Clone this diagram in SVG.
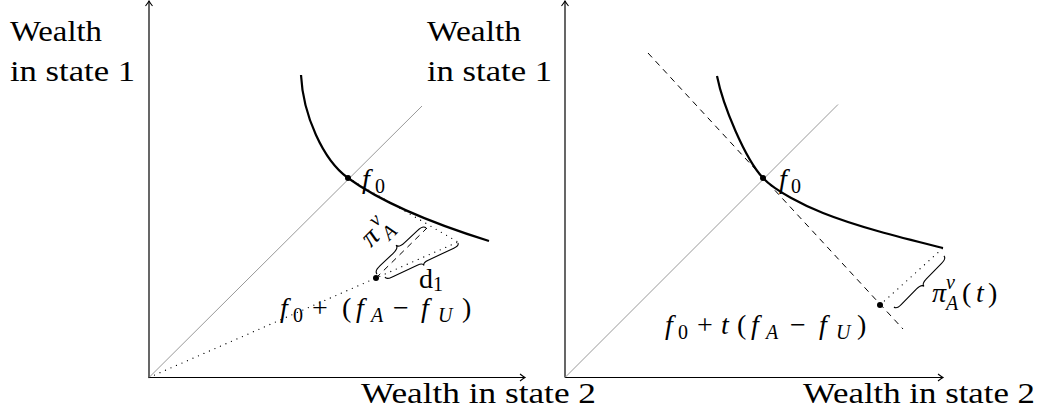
<svg xmlns="http://www.w3.org/2000/svg" width="1043" height="416" viewBox="0 0 1043 416">
<style>
text{font-family:"Liberation Serif","Times New Roman",serif;fill:#000}
.lbl{font-size:30px}
.m{font-size:28px}
.i{font-style:italic}
.s{font-size:20px}
.axis{stroke:#000;stroke-width:1.2;fill:none;marker-end:url(#arr)}
.diag{stroke:#999;stroke-width:1;fill:none}
.curve{stroke:#000;stroke-width:2.2;fill:none}
.dash{stroke:#000;stroke-width:1;stroke-dasharray:6 5;fill:none}
.dot{stroke:#000;stroke-width:1.3;stroke-dasharray:0 6;stroke-linecap:round;fill:none}
.brace{stroke:#000;stroke-width:1.1;fill:none}
.pt{fill:#000}
</style>
<defs>
<marker id="arr" viewBox="-6 -5 8 10" refX="0" refY="0" markerWidth="8" markerHeight="10" markerUnits="userSpaceOnUse" orient="auto">
<path d="M-5,-3.5 Q-1.5,-0.8 0,0 Q-1.5,0.8 -5,3.5" fill="none" stroke="#000" stroke-width="1.1"/>
</marker>
</defs>

<g id="left-panel">
  <g id="left-axes">
    <path class="axis" d="M149,377.5 V1"/>
    <path class="axis" d="M149,377.5 H525"/>
    <path class="diag" d="M149,377.5 L422,106"/>
  </g>
  <g id="left-lines">
    <path class="dot" d="M149,377.5 L458,242"/>
    <path class="dot" d="M348,178 L458,242"/>
    <path class="dash" d="M376,278 L427,228"/>
    <path class="curve" d="M301,75 C303,115 323,160 348,178 C388,207 444,227 489,241"/>
    <path class="brace" transform="translate(426,228) rotate(136.8)" d="M0,0 Q0,4 8,4 L25.6,4 Q33.6,4 33.6,8 Q33.6,4 41.6,4 L59.2,4 Q67.2,4 67.2,0"/>
    <path class="brace" transform="translate(385,277) rotate(-25)" d="M0,0 Q0,3 6,3 L34.25,3 Q40.25,3 40.25,6 Q40.25,3 46.25,3 L74.5,3 Q80.5,3 80.5,0"/>
  </g>
  <g id="left-points">
    <circle class="pt" cx="348" cy="178" r="3"/>
    <circle class="pt" cx="376" cy="278" r="3"/>
  </g>
  <g id="left-labels">
    <text class="lbl" x="10" y="41" textLength="92" lengthAdjust="spacingAndGlyphs">Wealth</text>
    <text class="lbl" x="10" y="81" textLength="125" lengthAdjust="spacingAndGlyphs">in state 1</text>
    <text class="lbl" x="361" y="403" textLength="235" lengthAdjust="spacingAndGlyphs">Wealth in state 2</text>
    <text class="m"><tspan class="i" x="362" y="188">f</tspan><tspan class="s" x="375" y="193">0</tspan></text>
    <text class="m" transform="translate(371,248) rotate(-45)"><tspan class="i">π</tspan><tspan class="s i" x="18" y="-11">ν</tspan><tspan class="s i" x="18" y="8">A</tspan></text>
    <text class="m"><tspan x="419" y="288">d</tspan><tspan class="s" x="433" y="291">1</tspan></text>
    <text class="m"><tspan class="i" x="280" y="317">f</tspan><tspan class="s" x="293" y="322">0</tspan><tspan x="312" y="317">+</tspan><tspan x="342" y="317">(</tspan><tspan class="i" x="356" y="317">f</tspan><tspan class="s i" x="371" y="322">A</tspan><tspan x="393" y="317">−</tspan><tspan class="i" x="421" y="317">f</tspan><tspan class="s i" x="438" y="322">U</tspan><tspan x="462" y="317">)</tspan></text>
  </g>
</g>

<g id="right-panel">
  <g id="right-axes">
    <path class="axis" d="M565,377.5 V1"/>
    <path class="axis" d="M565,377.5 H943"/>
    <path class="diag" d="M565,377.5 L838,104.5"/>
  </g>
  <g id="right-lines">
    <path class="dash" d="M648,53 L903,329"/>
    <path class="dot" d="M880,305 L943,248"/>
    <path class="curve" d="M717,76 C723,106 745,158.5 763,178 C775,191 805,206 823,213 C858,227 903,238 943,248"/>
    <path class="brace" transform="translate(894,307) rotate(-45.6)" d="M0,0 Q0,3.5 7,3.5 L28.7,3.5 Q35.7,3.5 35.7,7 Q35.7,3.5 42.7,3.5 L64.4,3.5 Q71.4,3.5 71.4,0"/>
  </g>
  <g id="right-points">
    <circle class="pt" cx="763" cy="178" r="3"/>
    <circle class="pt" cx="880" cy="305" r="3"/>
  </g>
  <g id="right-labels">
    <text class="lbl" x="427" y="41" textLength="94" lengthAdjust="spacingAndGlyphs">Wealth</text>
    <text class="lbl" x="427" y="81" textLength="125" lengthAdjust="spacingAndGlyphs">in state 1</text>
    <text class="lbl" x="803" y="403" textLength="232" lengthAdjust="spacingAndGlyphs">Wealth in state 2</text>
    <text class="m"><tspan class="i" x="779" y="188">f</tspan><tspan class="s" x="791" y="193">0</tspan></text>
    <text class="m"><tspan class="i" x="932" y="302">π</tspan><tspan class="s i" x="946" y="289">ν</tspan><tspan class="s i" x="946" y="310">A</tspan><tspan x="962" y="302">(</tspan><tspan class="i" x="976" y="302">t</tspan><tspan x="988" y="302">)</tspan></text>
    <text class="m"><tspan class="i" x="665" y="334">f</tspan><tspan class="s" x="678" y="339">0</tspan><tspan x="697" y="334">+</tspan><tspan class="i" x="721" y="334">t</tspan><tspan x="737" y="334">(</tspan><tspan class="i" x="751" y="334">f</tspan><tspan class="s i" x="766" y="339">A</tspan><tspan x="790" y="334">−</tspan><tspan class="i" x="819" y="334">f</tspan><tspan class="s i" x="836" y="339">U</tspan><tspan x="857" y="334">)</tspan></text>
  </g>
</g>
</svg>
